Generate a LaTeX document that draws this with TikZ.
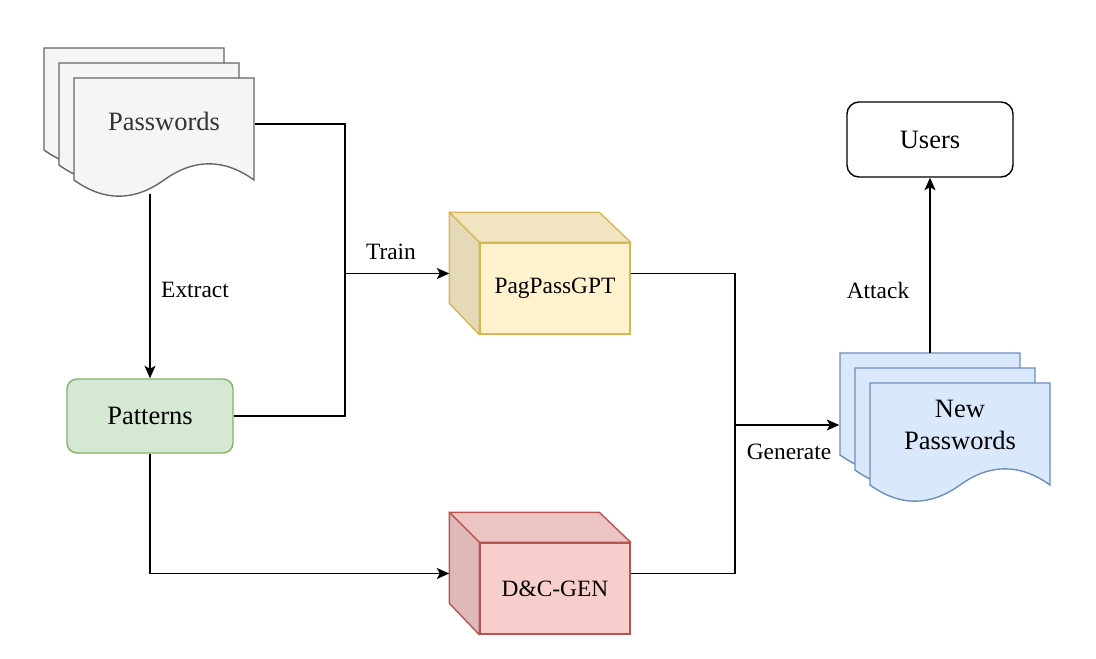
\documentclass[tikz,border=0pt]{standalone}
\usepackage{fontspec}
\setmainfont{Liberation Serif}
\usetikzlibrary{arrows.meta,positioning}

\definecolor{pwfill}{HTML}{F5F5F5}
\definecolor{pwline}{HTML}{666666}
\definecolor{pwtext}{HTML}{333333}
\definecolor{patfill}{HTML}{D5E8D4}
\definecolor{patline}{HTML}{82B366}
\definecolor{gptfill}{HTML}{FFF2CC}
\definecolor{gptline}{HTML}{D6B656}
\definecolor{dcfill}{HTML}{F8CECC}
\definecolor{dcline}{HTML}{B85450}
\definecolor{npfill}{HTML}{DAE8FC}
\definecolor{npline}{HTML}{6C8EBF}

\begin{document}
\begin{tikzpicture}[x=1pt,y=-1pt,line width=1.4pt,>={Stealth[length=12.5pt,width=11pt,inset=3pt]},
  big/.style={font=\fontsize{26.5}{32}\selectfont},
  lbl/.style={font=\fontsize{23.4}{28}\selectfont},
  box/.style={big,draw,rounded corners=10pt,minimum width=166pt,minimum height=74pt},
  cube/.style={lbl,draw=#1line,fill=#1fill,minimum width=150pt,minimum height=91pt},
  doc/.style={big,align=center,minimum width=180pt,minimum height=86pt},
  page/.pic={\path[pic actions] (0,0) -- (180,0) -- (180,102)
    .. controls (150,80.4) and (120,80.4) .. (90,102)
    .. controls (60,123.6) and (30,123.6) .. (0,102) -- cycle;}]
\useasboundingbox (0,0) rectangle (1096,659);

% document stacks
\foreach \i in {0,1,2}
  \pic[fill=pwfill,draw=pwline] at ({44+15*\i},{48+15*\i}) {page};
\foreach \i in {0,1,2}
  \pic[fill=npfill,draw=npline] at ({840+15*\i},{353+15*\i}) {page};

\node[doc,text=pwtext] (pw) at (164,121) {Passwords};
\node[box,fill=patfill,draw=patline] (pat) at (150,416) {Patterns};
\node[cube=gpt] (gpt) at (555,288.5) {PagPassGPT};
\node[cube=dc] (dc) at (555,588.5) {D\&C-GEN};
\node[doc] (np) at (960,425) {New\\Passwords};
\node[box,fill=white,rounded corners=12pt,minimum height=75pt] (us) at (930,139.5) {Users};

% cube faces
\foreach \n/\f/\d in {gpt/gptfill/gptline,dc/dcfill/dcline}{
  \filldraw[fill=\f!95!black,draw=\d,line join=round] (\n.north west) -- ++(-30pt,30pt)
    -- ++(150pt,0pt) -- (\n.north east) -- cycle;
  \filldraw[fill=\f!90!black,draw=\d,line join=round] (\n.north west) -- ++(-30pt,30pt)
    -- ++(0pt,-91pt) -- (\n.south west) -- cycle;
}

\coordinate (tj) at (345,273.5);
\coordinate (gj) at (735,425);
\coordinate (pwb) at (150,194);
\coordinate (npt) at (930,353);

\draw ([yshift=-3pt]pw.east) -| (tj);
\draw (pat) -| (tj);
\draw[->] (tj) -- ([shift={(-30pt,15pt)}]gpt.west);
\draw[->] (pwb) -- (pat);
\draw[->] (pat) |- ([shift={(-30pt,15pt)}]dc.west);
\draw ([yshift=15pt]gpt.east) -| (gj);
\draw ([yshift=15pt]dc.east) -| (gj);
\draw[->] (gj) -- ([xshift=-30pt]np.west);
\draw[->] (npt) -- (us);

\node[lbl] (train) at (391,252) {Train};
\node[lbl] (extract) at (195,290) {Extract};
\node[lbl] (generate) at (789,452) {Generate};
\node[lbl] (attack) at (878,290) {Attack};
\end{tikzpicture}
\end{document}
